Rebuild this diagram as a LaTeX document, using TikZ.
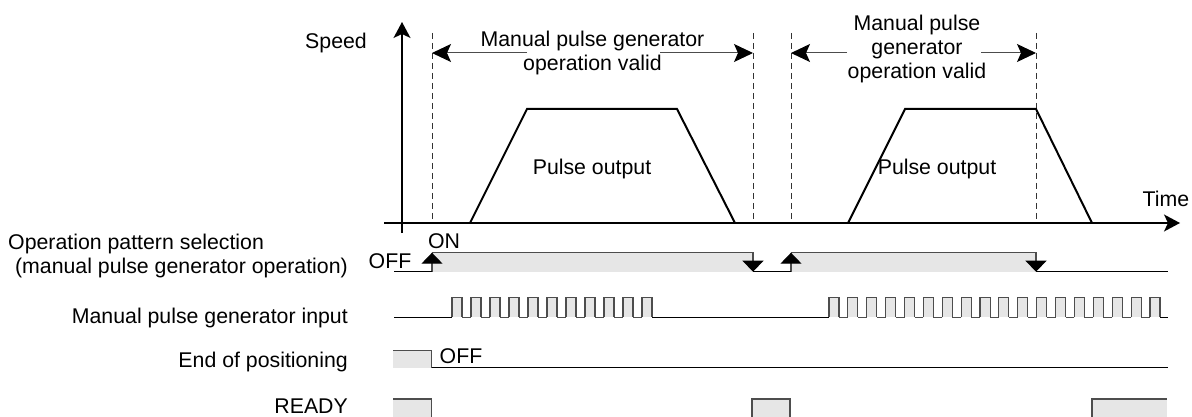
\documentclass[tikz,border=0pt]{standalone}
\usepackage{fontspec}
\setmainfont{Liberation Sans}
\usetikzlibrary{arrows.meta}
\definecolor{sigfill}{HTML}{E6E6E6}
\definecolor{edgecol}{HTML}{4D4D4D}
\begin{document}
\begin{tikzpicture}[x=1pt,y=-1pt, font=\fontsize{21.3}{24}\selectfont,
  lbl/.style={inner sep=0pt},
  axis/.style={line width=1.3pt, -{Stealth[length=16pt,width=17pt,inset=4pt]}},
  guide/.style={line width=0.9pt, dash pattern=on 6pt off 4pt, draw=black!80},
  span/.style={line width=1pt, draw=black!70, -{Stealth[length=19pt,width=18pt,inset=4pt,black]}},
  trap/.style={line width=2pt, line join=miter},
  lowline/.style={line width=1.3pt},
  hiline/.style={line width=1.1pt, draw=edgecol},
  edgeup/.style={line width=1.1pt, draw=edgecol, -{Triangle[length=11pt,width=21pt,black]}},
]
\useasboundingbox (0,0) rectangle (1192,417);

% axes
\coordinate (ybot) at (402,233);
\coordinate (ytop) at (402,22);
\coordinate (xl) at (384,223);
\coordinate (xr) at (1180,223);
\draw[axis] (ybot) -- (ytop);
\draw[axis] (xl) -- (xr);
\node[lbl, anchor=base] (speed) at (336,49) {Speed};
\node[lbl, anchor=base] (time) at (1166,207) {Time};

% dashed guide lines
\coordinate (gatop) at (432,33);  \coordinate (gabot) at (432,220);
\coordinate (gbtop) at (753,33);  \coordinate (gbbot) at (753,220);
\coordinate (gctop) at (791,33);  \coordinate (gcbot) at (791,220);
\coordinate (gdtop) at (1036,33); \coordinate (gdbot) at (1036,220);
\draw[guide] (gatop) -- (gabot);
\draw[guide] (gbtop) -- (gbbot);
\draw[guide] (gctop) -- (gcbot);
\draw[guide] (gdtop) -- (gdbot);

% speed profiles
\draw[trap] (470,223) -- (527,109) -- (677,109) -- (735,223);
\draw[trap] (848,223) -- (905,109) -- (1036,109) -- (1092,223);
\node[lbl, anchor=base] (po1) at (592,175) {Pulse output};
\node[lbl, anchor=base] (po2) at (937,175) {Pulse output};

% valid-range labels
\node[lbl, align=center] (v1) at (592.5,52.7) {Manual pulse generator\\operation valid};
\node[lbl, align=center] (v2) at (917,48.6) {Manual pulse\\generator\\operation valid};
\coordinate (v1l) at (527,53); \coordinate (v1r) at (660,53);
\coordinate (v2l) at (847,53); \coordinate (v2r) at (981,53);
\draw[span] (v1l) -- (gatop |- v1l);
\draw[span] (v1r) -- (gbtop |- v1r);
\draw[span] (v2l) -- (gctop |- v2l);
\draw[span] (v2r) -- (gdtop |- v2r);

% row 1: operation pattern selection
\fill[sigfill] (432,252.7) rectangle (753,271.7);
\fill[sigfill] (791,252.7) rectangle (1036,271.7);
\draw[hiline] (432,252.7) -- (753,252.7) -- (753,262);
\draw[hiline] (791,252.7) -- (1036,252.7) -- (1036,262);
\draw[edgeup] (432,271.7) -- (432,252.7);
\draw[edgeup] (791,271.7) -- (791,252.7);
\draw[edgeup] (753,252.7) -- (753,271.7);
\draw[edgeup] (1036,252.7) -- (1036,271.7);
\draw[lowline] (394,271.7) -- (432,271.7);
\draw[lowline] (753,271.7) -- (791,271.7);
\draw[lowline] (1036,271.7) -- (1168,271.7);
\node[lbl, anchor=base] (on) at (444,248) {ON};
\node[lbl, anchor=base] (off1) at (390,268) {OFF};

% row 2: manual pulse generator input
\draw[lowline] (394,317.3) -- (452,317.3);
\draw[lowline] (652,317.3) -- (829,317.3);
\draw[lowline] (1160,317.3) -- (1168,317.3);
\foreach \i in {0,...,10}{
  \pgfmathsetmacro\xa{452+19*\i}
  \fill[sigfill] (\xa,297.7) rectangle (\xa+10,317.3);
  \draw[hiline] (\xa,317.3) -- (\xa,297.7) -- (\xa+10,297.7) -- (\xa+10,317.3);
}
\foreach \i in {0,...,9}{
  \pgfmathsetmacro\xa{452+19*\i}
  \draw[hiline] (\xa+10,317.3) -- (\xa+19,317.3);
}
\foreach \i in {0,...,17}{
  \pgfmathsetmacro\xa{829+18.88*\i}
  \fill[sigfill] (\xa,297.7) rectangle (\xa+10,317.3);
  \draw[hiline] (\xa,317.3) -- (\xa,297.7) -- (\xa+10,297.7) -- (\xa+10,317.3);
}
\foreach \i in {0,...,16}{
  \pgfmathsetmacro\xa{829+18.88*\i}
  \draw[hiline] (\xa+10,317.3) -- (\xa+18.88,317.3);
}

% row 3: end of positioning
\fill[sigfill] (393,350.7) rectangle (431.7,367.7);
\draw[hiline] (393,350.7) -- (431.7,350.7) -- (431.7,367.7);
\draw[lowline] (431.7,367.7) -- (1168,367.7);
\node[lbl, anchor=base] (off2) at (461,363) {OFF};

% row 4: READY
\fill[sigfill] (393,399) rectangle (431.7,417);
\draw[hiline] (393,399) -- (431.7,399) -- (431.7,417);
\fill[sigfill] (752,399) rectangle (790,417);
\draw[hiline] (752,417) -- (752,399) -- (790,399) -- (790,417);
\fill[sigfill] (1092,399) rectangle (1167,417);
\draw[hiline] (1092,417) -- (1092,399) -- (1167,399);

% signal names
\node[lbl, anchor=base west] (s1a) at (8,249) {Operation pattern selection};
\node[lbl, anchor=base east] (s1b) at (348,273) {(manual pulse generator operation)};
\node[lbl, anchor=base east] (s2) at (348,323) {Manual pulse generator input};
\node[lbl, anchor=base east] (s3) at (348,367) {End of positioning};
\node[lbl, anchor=base east] (s4) at (348,413.5) {READY};
\end{tikzpicture}
\end{document}
